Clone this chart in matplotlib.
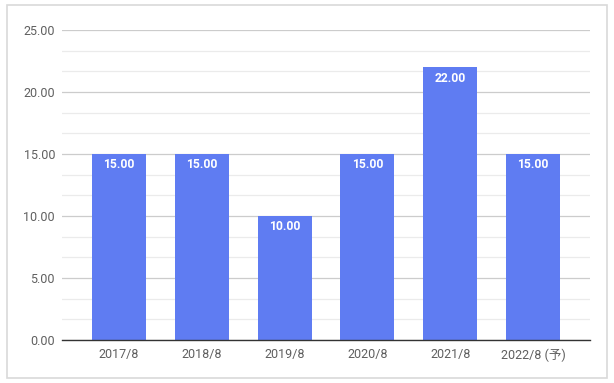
import matplotlib.pyplot as plt
from matplotlib.patches import Rectangle
from matplotlib.ticker import MultipleLocator

plt.rcParams['font.family'] = ['Roboto', 'Noto Sans CJK JP', 'DejaVu Sans']

categories = ['2017/8', '2018/8', '2019/8', '2020/8', '2021/8', '2022/8 (予)']
values = [15.00, 15.00, 10.00, 15.00, 22.00, 15.00]
y_ticks = [0, 5, 10, 15, 20, 25]

bar_color = '#5f7cf2'

fig = plt.figure(figsize=(6.14, 3.83), dpi=100)
fig.patches.append(Rectangle((7 / 614, 5 / 383), 600 / 614, 373 / 383,
                             transform=fig.transFigure, fill=False,
                             edgecolor='#d9d9d9', linewidth=1.2))

ax = fig.add_axes([62 / 614, 43 / 383, 528 / 614, 310 / 383])
x = list(range(len(categories)))
bars = ax.bar(x, values, width=0.65, color=bar_color, zorder=3)

for b, v in zip(bars, values):
    ax.text(b.get_x() + b.get_width() / 2, v - 0.35, f'{v:.2f}',
            ha='center', va='top', color='white', fontsize=8.7,
            fontweight='bold', zorder=4)

ax.set_xlim(-0.69, 5.69)
ax.set_ylim(0, 25)
ax.set_yticks(y_ticks)
ax.set_yticklabels([f'{t:.2f}' for t in y_ticks])
ax.yaxis.set_minor_locator(MultipleLocator(5 / 3))
ax.set_xticks(x)
ax.set_xticklabels(categories)

ax.grid(axis='y', which='major', color='#cccccc', linewidth=0.9, zorder=0)
ax.grid(axis='y', which='minor', color='#ebebeb', linewidth=0.9, zorder=0)
ax.tick_params(axis='both', which='both', length=0, labelsize=9,
               labelcolor='#5f5f5f')
ax.tick_params(axis='y', pad=5)
ax.tick_params(axis='x', pad=6)

for s in ['top', 'right', 'left']:
    ax.spines[s].set_visible(False)
ax.spines['bottom'].set_color('#333333')
ax.spines['bottom'].set_linewidth(1.0)
ax.spines['bottom'].set_zorder(5)

fig.savefig('out.png', dpi=100)
